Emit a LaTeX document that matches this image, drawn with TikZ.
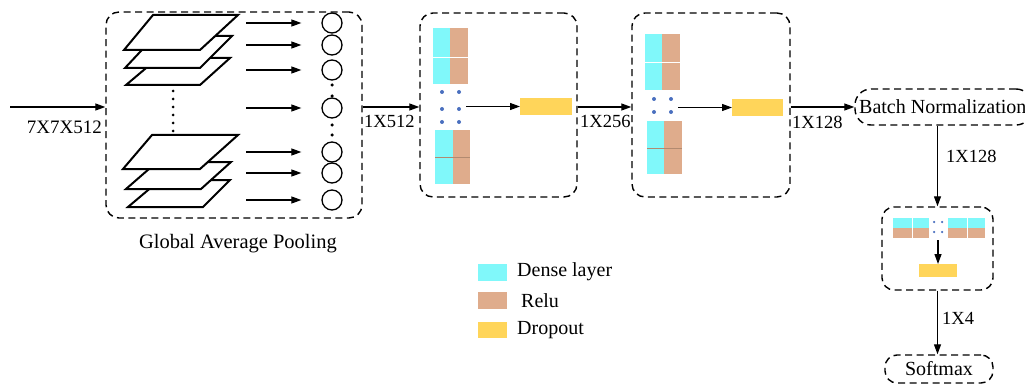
\documentclass[tikz,border=0pt]{standalone}
\usepackage{fontspec}
\setmainfont{Liberation Serif}
\usetikzlibrary{arrows.meta}
\definecolor{dcyan}{HTML}{80F8FA}
\definecolor{dtan}{HTML}{DFAC8C}
\definecolor{dyel}{HTML}{FFD55A}
\definecolor{dblue}{HTML}{4A6FBF}
\tikzset{
  dbox/.style={draw, line width=1.4pt, dash pattern=on 7pt off 4.5pt, rounded corners=13pt, inner sep=0pt},
  arr/.style={line width=1.2pt, -{Triangle[length=10pt,width=7pt]}},
  lbl/.style={font=\fontsize{20}{22}\selectfont, inner sep=0pt},
  dim/.style={font=\fontsize{18.5}{20}\selectfont, inner sep=0pt},
  plane/.style={draw, line width=2pt, fill=white, line join=miter},
  pool/.style={circle, draw, line width=1.3pt, minimum size=20pt, inner sep=0pt},
  bdot/.style={circle, fill=dblue, minimum size=4pt, inner sep=0pt},
  kdot/.style={circle, fill=black, minimum size=3.5pt, inner sep=0pt},
  blk/.style={inner sep=0pt, outer sep=0pt},
}
\begin{document}
\begin{tikzpicture}[x=1pt,y=-1pt]
\useasboundingbox (0,0) rectangle (1025,385);
% ---------- Global average pooling ----------
\node[dbox, minimum width=256pt, minimum height=206pt] (gap) at (234,115) {};
\node[lbl, font=\fontsize{20.5}{22}\selectfont] (gaplbl) at (238,244) {Global Average Pooling};
\coordinate (in) at (10,107);
\draw[arr] (in) -- (gap.west |- in);
\node[dim, font=\fontsize{19}{20}\selectfont, anchor=east] (l0) at (102,127) {7X7X512};
% planes (top group)
\draw[plane] (126,85) -- (200,85) -- (230,58) -- (158,58) -- cycle;
\draw[plane] (125,68) -- (200,68) -- (232,36) -- (155,36) -- cycle;
\draw[plane] (124,50) -- (200,50) -- (238,15) -- (153,15) -- cycle;
% planes (bottom group)
\draw[plane] (128,207) -- (203,207) -- (230,180) -- (160,180) -- cycle;
\draw[plane] (126,189) -- (201,189) -- (231,162) -- (157,162) -- cycle;
\draw[plane] (123,169) -- (200,169) -- (238,135) -- (152,135) -- cycle;
% vertical dots
\foreach \yy in {91,99,107,115,123,131} \node[kdot, minimum size=3pt] at (173,\yy) {};
% circles and arrows
\foreach \i/\yy in {1/23,2/45,3/70,4/108,5/152,6/173,7/200}{
  \node[pool] (c\i) at (332,\yy) {};
  \draw[arr] ([xshift=-75pt]c\i.west) -- ([xshift=-20pt]c\i.west);
}
\foreach \yy in {85,96,125,135} \node[kdot] at (332,\yy) {};
% ---------- Dense block 1 ----------
\node[dbox, minimum width=157pt, minimum height=184pt] (d1) at (498.5,105) {};
\draw[arr] (gap.east |- in) -- (d1.west |- in);
\node[dim, anchor=west] (l1) at (364,121) {1X512};
\fill[dcyan] (433,28) rectangle (450,84);
\fill[dtan] (450,28) rectangle (468,84);
\draw[white, line width=0.8pt] (433,57) -- (468,57);
\fill[dcyan] (435,130) rectangle (453,184);
\fill[dtan] (453,130) rectangle (470,184);
\draw[dtan!80!black, line width=0.6pt] (435,157) -- (470,157);
\foreach \xx in {442,459} \foreach \yy in {92,109,122} \node[bdot] at (\xx,\yy) {};
\node[blk, fill=dyel, minimum width=52pt, minimum height=17pt] (do1) at (546,106.5) {};
\coordinate (a1) at (466,106.5);
\draw[arr] (a1) -- (do1.west);
% ---------- Dense block 2 ----------
\node[dbox, minimum width=158pt, minimum height=184pt] (d2) at (711,105) {};
\draw[arr] (d1.east |- in) -- (d2.west |- in);
\node[dim, anchor=west] (l2) at (580,121) {1X256};
\fill[dcyan] (645,34) rectangle (662,90);
\fill[dtan] (662,34) rectangle (680,90);
\draw[white, line width=0.8pt] (645,62) -- (680,62);
\fill[dcyan] (647,121) rectangle (664,174);
\fill[dtan] (664,121) rectangle (682,174);
\draw[dtan!80!black, line width=0.6pt] (647,148) -- (682,148);
\foreach \xx in {654,671} \foreach \yy in {99,112} \node[bdot] at (\xx,\yy) {};
\node[blk, fill=dyel, minimum width=51pt, minimum height=17pt] (do2) at (757.5,107.5) {};
\coordinate (a2) at (678,107.5);
\draw[arr] (a2) -- (do2.west);
% ---------- Batch normalization ----------
\node[dbox, rounded corners=16pt, minimum width=177pt, minimum height=36pt] (bn) at (943.5,107) {};
\node[lbl, anchor=west] (bnt) at (859,107) {Batch Normalization};
\draw[arr] (d2.east |- in) -- (bn.west |- in);
\node[dim, anchor=west] (l3) at (792,122.5) {1X128};
% ---------- small dense box ----------
\node[dbox, rounded corners=12pt, minimum width=111pt, minimum height=83pt] (sb) at (937.5,248.5) {};
\draw[arr] (sb.north |- bn.south) -- (sb.north);
\node[dim, anchor=west] (l4) at (946,156) {1X128};
\fill[dcyan] (893,218) rectangle (929,228);
\fill[dtan] (893,228) rectangle (929,238);
\draw[white, line width=0.6pt] (912,218) -- (912,238);
\fill[dcyan] (948,218) rectangle (985,228);
\fill[dtan] (948,228) rectangle (985,238);
\draw[white, line width=0.6pt] (967,218) -- (967,238);
\foreach \xx in {934,942} \foreach \yy in {222,232} \node[bdot, minimum size=2.5pt] at (\xx,\yy) {};
\node[blk, fill=dyel, minimum width=38pt, minimum height=13pt] (do3) at (938,270.5) {};
\coordinate (a3) at (938,240);
\draw[arr] (a3) -- (do3.north);
% ---------- softmax ----------
\node[dbox, rounded corners=12pt, minimum width=108pt, minimum height=28pt] (sm) at (939,369) {};
\node[lbl] (smt) at (939,369) {Softmax};
\draw[arr] (sb.south) -- (sm.north -| sb.south);
\node[dim, anchor=west] (l5) at (942,318.5) {1X4};
% ---------- legend ----------
\node[blk, fill=dcyan, minimum width=29pt, minimum height=17pt] (lg1) at (492.5,272.5) {};
\node[blk, fill=dtan, minimum width=29pt, minimum height=17pt] (lg2) at (492.5,300.5) {};
\node[blk, fill=dyel, minimum width=29pt, minimum height=16pt] (lg3) at (492.5,330) {};
\node[lbl, anchor=west] (lt1) at (517,272) {Dense layer};
\node[lbl, anchor=west] (lt2) at (521,301) {Relu};
\node[lbl, anchor=west] (lt3) at (517,330) {Dropout};
\end{tikzpicture}
\end{document}
